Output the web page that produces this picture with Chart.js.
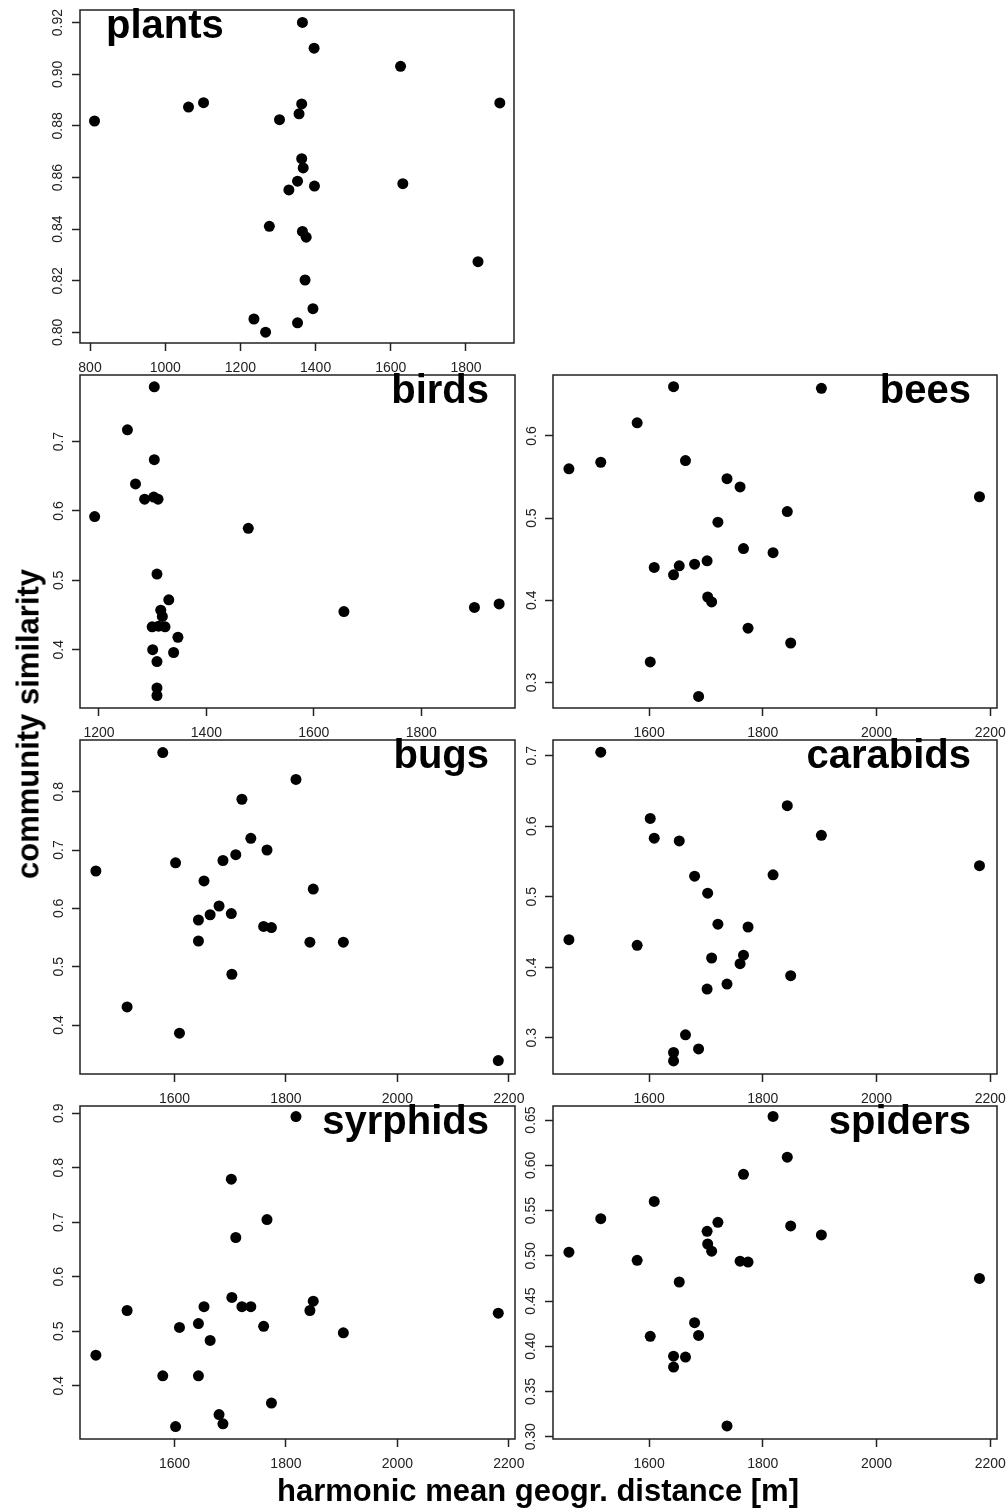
<!DOCTYPE html>
<html>
<head>
<meta charset="utf-8">
<script src="https://cdn.jsdelivr.net/npm/chart.js@4.4.1/dist/chart.umd.min.js"></script>
<style>
    html, body { margin: 0; padding: 0; background: #fff; }
    #page { position: relative; width: 1007px; height: 1510px; overflow: hidden; font-family: "Liberation Sans", Arial, sans-serif; }
    #page canvas { position: absolute; }
    .axis-title { position: absolute; font-weight: bold; font-size: 31px; line-height: 31px; color: #000; white-space: nowrap; }
    #ylab { left: 28px; top: 724px; transform: translate(-50%, -50%) rotate(-90deg); }
    #xlab { left: 538px; top: 1490px; transform: translate(-50%, -50%); }
</style>
</head>
<body>
<div id="page">
    <canvas id="plants"></canvas>
    <canvas id="birds"></canvas>
    <canvas id="bees"></canvas>
    <canvas id="bugs"></canvas>
    <canvas id="carabids"></canvas>
    <canvas id="syrphids"></canvas>
    <canvas id="spiders"></canvas>
    <div class="axis-title" id="ylab">community similarity</div>
    <div class="axis-title" id="xlab">harmonic mean geogr. distance [m]</div>
</div>

<script>
    // plants and birds were sampled at their own sites
    const plantsX = [1365, 1396, 1626, 1890, 812, 1062, 1102, 1304, 1356, 1363, 1363, 1367, 1352, 1329, 1397, 1632, 1277, 1365, 1375, 1832, 1372, 1393, 1236, 1352, 1267];
    const plantsY = [0.9201, 0.9101, 0.9031, 0.8889, 0.8819, 0.8873, 0.8890, 0.8824, 0.8847, 0.8885, 0.8673, 0.8637, 0.8586, 0.8552, 0.8567, 0.8576, 0.8411, 0.8391, 0.8369, 0.8274, 0.8203, 0.8092, 0.8052, 0.8037, 0.8001];

    const birdsX = [1303, 1253, 1303, 1268, 1285, 1302, 1310, 1192, 1478, 1308, 1330, 1315, 1318, 1299, 1311, 1323, 1347, 1300, 1339, 1308, 1308, 1308, 1656, 1899, 1945];
    const birdsY = [0.779, 0.717, 0.674, 0.639, 0.617, 0.620, 0.617, 0.592, 0.575, 0.509, 0.472, 0.457, 0.448, 0.433, 0.434, 0.433, 0.418, 0.400, 0.396, 0.383, 0.345, 0.334, 0.455, 0.461, 0.466];

    // the other five groups share the same 24 sites
    const siteX = [1459, 1515, 1579, 1602, 1609, 1643, 1643, 1653, 1664, 1680, 1687, 1702, 1703, 1710, 1721, 1737, 1760, 1766, 1774, 1818, 1843, 1849, 1903, 2181];
    const beesY = [0.560, 0.568, 0.616, 0.325, 0.440, 0.660, 0.431, 0.442, 0.570, 0.444, 0.283, 0.448, 0.404, 0.398, 0.495, 0.548, 0.538, 0.463, 0.366, 0.458, 0.508, 0.348, 0.658, 0.526];
    const bugsY = [0.664, 0.431, 0.867, 0.678, 0.386, 0.580, 0.544, 0.647, 0.589, 0.604, 0.682, 0.591, 0.487, 0.692, 0.787, 0.720, 0.569, 0.700, 0.567, 0.821, 0.542, 0.633, 0.542, 0.339];
    const carabidsY = [0.439, 0.705, 0.431, 0.611, 0.583, 0.279, 0.267, 0.579, 0.304, 0.529, 0.284, 0.369, 0.505, 0.413, 0.461, 0.376, 0.405, 0.417, 0.457, 0.531, 0.629, 0.388, 0.587, 0.544];
    const syrphidsY = [0.456, 0.538, 0.418, 0.325, 0.507, 0.514, 0.418, 0.545, 0.483, 0.347, 0.330, 0.779, 0.562, 0.672, 0.545, 0.545, 0.509, 0.705, 0.368, 0.894, 0.538, 0.555, 0.497, 0.533];
    const spidersY = [0.504, 0.541, 0.495, 0.411, 0.560, 0.389, 0.377, 0.471, 0.388, 0.426, 0.412, 0.527, 0.513, 0.505, 0.537, 0.312, 0.494, 0.590, 0.493, 0.654, 0.609, 0.533, 0.523, 0.475];

    // tick values
    const plantsXTicks = [800, 1000, 1200, 1400, 1600, 1800];
    const birdsXTicks = [1200, 1400, 1600, 1800];
    const siteXTicks = [1600, 1800, 2000, 2200];
    const plantsYTicks = [0.80, 0.82, 0.84, 0.86, 0.88, 0.90, 0.92];
    const birdsYTicks = [0.4, 0.5, 0.6, 0.7];
    const beesYTicks = [0.3, 0.4, 0.5, 0.6];
    const bugsYTicks = [0.4, 0.5, 0.6, 0.7, 0.8];
    const carabidsYTicks = [0.3, 0.4, 0.5, 0.6, 0.7];
    const syrphidsYTicks = [0.4, 0.5, 0.6, 0.7, 0.8, 0.9];
    const spidersYTicks = [0.30, 0.35, 0.40, 0.45, 0.50, 0.55, 0.60, 0.65];

    const FONT = '"Liberation Sans", Arial, sans-serif';
    const TICK_LEN = 8;
    const PAD_TOP = 20, PAD_RIGHT = 20, Y_AXIS_W = 80, X_AXIS_H = 45;

    // box around the plot region, like R's box()
    const framePlugin = {
        id: "frame",
        afterDraw(chart){
            const { ctx, chartArea: a } = chart;
            ctx.save();
            ctx.strokeStyle = "#222";
            ctx.lineWidth = 1.5;
            ctx.strokeRect(a.left, a.top, a.right - a.left, a.bottom - a.top);
            ctx.restore();
        }
    };

    const panelTitlePlugin = {
        id: "panelTitle",
        afterDraw(chart, args, opts){
            const { ctx, chartArea: a } = chart;
            ctx.save();
            ctx.font = "bold 40px " + FONT;
            ctx.fillStyle = "#000";
            ctx.textBaseline = "alphabetic";
            if(opts.side === "left"){
                ctx.textAlign = "left";
                ctx.fillText(opts.text, a.left + 26, a.top + 28);
            } else {
                ctx.textAlign = "right";
                ctx.fillText(opts.text, a.right - 26, a.top + 28);
            }
            ctx.restore();
        }
    };

    function zeroPadding(scale){
        scale.paddingLeft = 0;
        scale.paddingRight = 0;
        scale.paddingTop = 0;
        scale.paddingBottom = 0;
    }

    function createPanel(cfg){
        const canvas = document.getElementById(cfg.id);
        const left = cfg.box.left - Y_AXIS_W;
        const top = cfg.box.top - PAD_TOP;
        canvas.style.left = left + "px";
        canvas.style.top = top + "px";
        canvas.width = cfg.box.right + PAD_RIGHT - left;
        canvas.height = cfg.box.bottom + X_AXIS_H - top;

        return new Chart(canvas, {
            type: "scatter",
            data: {
                datasets: [{
                    data: cfg.xs.map((x, i) => ({ x: x, y: cfg.ys[i] })),
                    backgroundColor: "#000",
                    borderWidth: 0,
                    pointRadius: 5.5,
                    pointHoverRadius: 5.5,
                    clip: false
                }]
            },
            options: {
                responsive: false,
                animation: false,
                devicePixelRatio: 1,
                events: [],
                layout: { padding: { top: PAD_TOP, right: PAD_RIGHT, left: 0, bottom: 0 } },
                plugins: {
                    legend: { display: false },
                    tooltip: { enabled: false },
                    panelTitle: { text: cfg.title, side: cfg.titleSide }
                },
                scales: {
                    x: {
                        type: "linear",
                        min: cfg.xRange[0],
                        max: cfg.xRange[1],
                        afterBuildTicks: s => { s.ticks = cfg.xTicks.map(v => ({ value: v })); },
                        afterFit: s => { s.height = X_AXIS_H; zeroPadding(s); },
                        grid: { display: true, drawOnChartArea: false, drawTicks: true, tickLength: TICK_LEN, tickWidth: 1.5, tickColor: "#222" },
                        border: { display: false },
                        ticks: {
                            autoSkip: false,
                            maxRotation: 0,
                            minRotation: 0,
                            padding: 9,
                            color: "#222",
                            font: { family: FONT, size: 14 },
                            callback: v => String(v)
                        }
                    },
                    y: {
                        type: "linear",
                        min: cfg.yRange[0],
                        max: cfg.yRange[1],
                        afterBuildTicks: s => { s.ticks = cfg.yTicks.map(v => ({ value: v })); },
                        afterFit: s => { s.width = Y_AXIS_W; zeroPadding(s); },
                        grid: { display: true, drawOnChartArea: false, drawTicks: true, tickLength: TICK_LEN, tickWidth: 1.5, tickColor: "#222" },
                        border: { display: false },
                        ticks: {
                            autoSkip: false,
                            minRotation: 90,
                            maxRotation: 90,
                            crossAlign: "center",
                            padding: cfg.yDigits === 2 ? 0 : 3,
                            color: "#222",
                            font: { family: FONT, size: 14 },
                            callback: v => v.toFixed(cfg.yDigits)
                        }
                    }
                }
            },
            plugins: [framePlugin, panelTitlePlugin]
        });
    }

    const charts = [
        createPanel({ id: "plants", title: "plants", titleSide: "left",
            box: { left: 80, top: 10, right: 514, bottom: 343 },
            xs: plantsX, ys: plantsY, xRange: [773.4, 1927.7], yRange: [0.7959, 0.9249],
            xTicks: plantsXTicks, yTicks: plantsYTicks, yDigits: 2 }),
        createPanel({ id: "birds", title: "birds", titleSide: "right",
            box: { left: 80, top: 375, right: 515, bottom: 708 },
            xs: birdsX, ys: birdsY, xRange: [1164.7, 1974.5], yRange: [0.316, 0.796],
            xTicks: birdsXTicks, yTicks: birdsYTicks, yDigits: 1 }),
        createPanel({ id: "bees", title: "bees", titleSide: "right",
            box: { left: 553, top: 375, right: 997, bottom: 708 },
            xs: siteX, ys: beesY, xRange: [1431, 2211.8], yRange: [0.2689, 0.6742],
            xTicks: siteXTicks, yTicks: beesYTicks, yDigits: 1 }),
        createPanel({ id: "bugs", title: "bugs", titleSide: "right",
            box: { left: 80, top: 740, right: 515, bottom: 1074 },
            xs: siteX, ys: bugsY, xRange: [1430.5, 2211], yRange: [0.316, 0.8886],
            xTicks: siteXTicks, yTicks: bugsYTicks, yDigits: 1 }),
        createPanel({ id: "carabids", title: "carabids", titleSide: "right",
            box: { left: 553, top: 740, right: 997, bottom: 1074 },
            xs: siteX, ys: carabidsY, xRange: [1431, 2211.8], yRange: [0.2485, 0.7222],
            xTicks: siteXTicks, yTicks: carabidsYTicks, yDigits: 1 }),
        createPanel({ id: "syrphids", title: "syrphids", titleSide: "right",
            box: { left: 80, top: 1106, right: 515, bottom: 1439 },
            xs: siteX, ys: syrphidsY, xRange: [1430.5, 2211], yRange: [0.3021, 0.9134],
            xTicks: siteXTicks, yTicks: syrphidsYTicks, yDigits: 1 }),
        createPanel({ id: "spiders", title: "spiders", titleSide: "right",
            box: { left: 553, top: 1106, right: 997, bottom: 1439 },
            xs: siteX, ys: spidersY, xRange: [1431, 2211.8], yRange: [0.2975, 0.6655],
            xTicks: siteXTicks, yTicks: spidersYTicks, yDigits: 2 })
    ];
</script>
</body>
</html>
